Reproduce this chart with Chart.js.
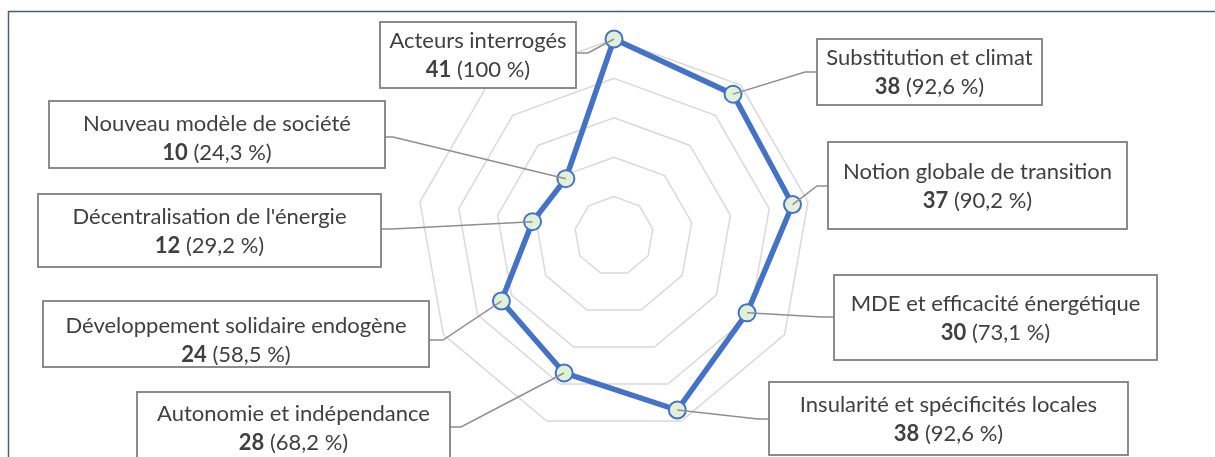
<!DOCTYPE html>
<html>
<head>
<meta charset="utf-8">
<script src="https://cdn.jsdelivr.net/npm/chart.js@4/dist/chart.umd.min.js"></script>
<style>
  html, body { margin: 0; padding: 0; background: #fff; }
</style>
</head>
<body>
<canvas id="myChart" width="1215" height="457"></canvas>
<script>
//data
var categories = ["Acteurs interrogés", "Substitution et climat", "Notion globale de transition",
  "MDE et efficacité énergétique", "Insularité et spécificités locales", "Autonomie et indépendance",
  "Développement solidaire endogène", "Décentralisation de l'énergie", "Nouveau modèle de société"];
var counts = [41, 38, 37, 30, 38, 28, 24, 12, 10];
var percents = ["100", "92,6", "90,2", "73,1", "92,6", "68,2", "58,5", "29,2", "24,3"];
var ringTicks = [1, 11, 21, 31, 41];

//label boxes: x, y, w, h, leader side, leader y, elbow x, first text line y
var boxes = [
  [380, 22, 196, 66, "right", 53, 588, 41],
  [817, 39, 225, 66, "left", 72, 805, 58],
  [828, 142, 299, 87, "left", 186, 817, 172],
  [834, 275, 323, 85, "left", 317, 822, 304],
  [769, 382, 359, 73, "left", 419, 758, 405],
  [137, 392, 313, 70, "right", 427, 461, 414],
  [43, 301, 386, 66, "right", 340, 443, 326],
  [38, 194, 343, 73, "right", 229, 392, 217],
  [49, 101, 336, 67, "right", 137, 393, 124]
];

var fontName = "Lato, 'Open Sans', sans-serif";
var fontSize = 22;

var labelBoxes = {
  id: "labelBoxes",
  afterDatasetsDraw: function (chart) {
    var ctx = chart.ctx;
    var pts = chart.getDatasetMeta(0).data;
    ctx.save();
    boxes.forEach(function (b, i) {
      var x = b[0], y = b[1], w = b[2], h = b[3];
      var edgeX = b[4] == "right" ? x + w : x;
      ctx.fillStyle = "#fff";
      ctx.fillRect(x, y, w, h);
      // leader line from the point to the box
      ctx.strokeStyle = "#8f8f8f";
      ctx.lineWidth = 1.5;
      ctx.beginPath();
      ctx.moveTo(pts[i].x, pts[i].y);
      ctx.lineTo(b[6], b[5]);
      ctx.lineTo(edgeX, b[5]);
      ctx.stroke();
      ctx.strokeStyle = "#7f7f7f";
      ctx.lineWidth = 1.8;
      ctx.strokeRect(x, y, w, h);
      // text
      var cx = x + w / 2;
      ctx.fillStyle = "#404040";
      ctx.textBaseline = "middle";
      ctx.textAlign = "center";
      ctx.font = fontSize + "px " + fontName;
      ctx.fillText(categories[i], cx, b[7]);
      var num = String(counts[i]);
      var rest = " (" + percents[i] + " %)";
      ctx.font = "bold " + fontSize + "px " + fontName;
      var w1 = ctx.measureText(num).width;
      ctx.font = fontSize + "px " + fontName;
      var w2 = ctx.measureText(rest).width;
      var sx = cx - (w1 + w2) / 2;
      ctx.textAlign = "left";
      ctx.font = "bold " + fontSize + "px " + fontName;
      ctx.fillText(num, sx, b[7] + 29);
      ctx.font = fontSize + "px " + fontName;
      ctx.fillText(rest, sx + w1, b[7] + 29);
    });
    // frame
    ctx.strokeStyle = "#4d5d78";
    ctx.lineWidth = 1.5;
    ctx.beginPath();
    ctx.moveTo(8.5, 457);
    ctx.lineTo(8.5, 11.5);
    ctx.lineTo(1215, 11.5);
    ctx.stroke();
    ctx.restore();
  }
};

var myChart = document.getElementById("myChart");
new Chart(myChart, {
  type: "radar",
  data: {
    labels: categories,
    datasets: [{
      data: counts,
      borderColor: "#4472C4",
      borderWidth: 5.5,
      backgroundColor: "transparent",
      fill: false,
      pointRadius: 8.5,
      pointHoverRadius: 8.5,
      pointBackgroundColor: "#E2F0D9",
      pointBorderColor: "#4472C4",
      pointBorderWidth: 2
    }]
  },
  options: {
    responsive: false,
    animation: false,
    devicePixelRatio: 1,
    layout: { padding: { left: 400, right: 387, top: 39, bottom: 24 } },
    plugins: { legend: { display: false }, tooltip: { enabled: false } },
    scales: {
      r: {
        min: -9,
        max: 41,
        afterBuildTicks: function (scale) {
          scale.ticks = ringTicks.map(function (v) { return { value: v }; });
        },
        ticks: { display: false },
        pointLabels: { display: false },
        angleLines: { display: false },
        grid: { color: "#d9d9d9", lineWidth: 1.5 }
      }
    }
  },
  plugins: [labelBoxes]
});
</script>
</body>
</html>
